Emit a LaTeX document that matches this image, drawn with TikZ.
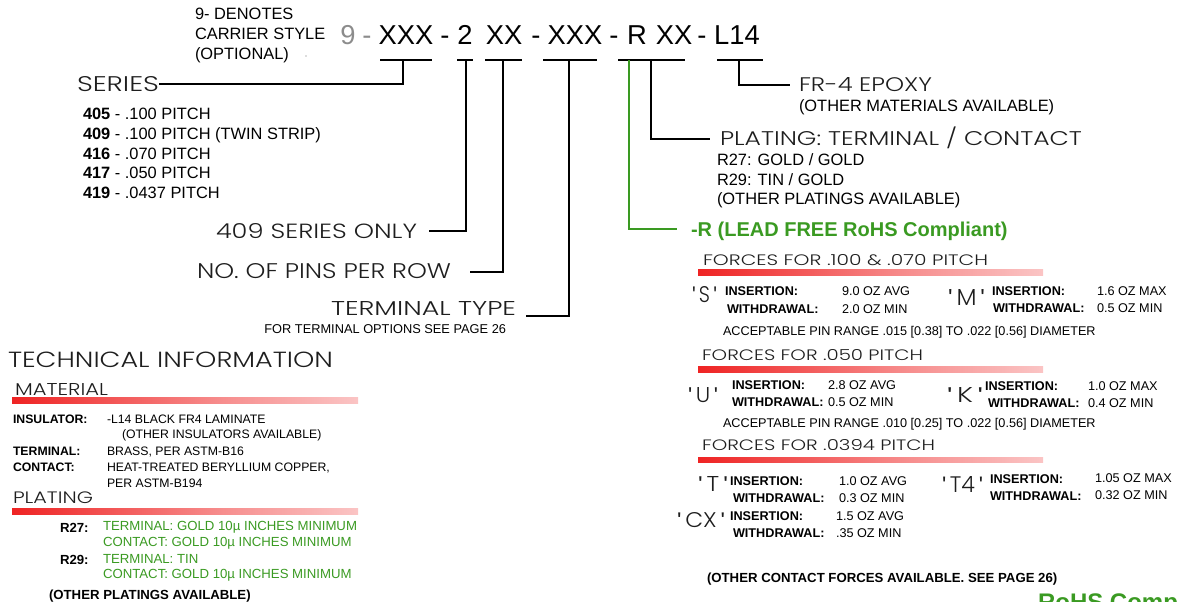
\documentclass[tikz,border=0pt]{standalone}
\usepackage{fontspec}
\setmainfont{Liberation Sans}
\newfontfamily\headfont{Poppins Light}
\usepackage{graphicx}
\usetikzlibrary{calc}
\newlength\pxu \setlength\pxu{0.75pt}
\newcommand\fsz[1]{\fontsize{#1}{#1}\selectfont}
\newcommand\hd[3]{\resizebox{#1\pxu}{#2\pxu}{\headfont #3}}
\newcommand\qlab[3]{\resizebox{#1\pxu}{#2\pxu}{\textquotesingle\,{\headfont #3}\,\textquotesingle}}
\newcommand\flatslash{\raisebox{0pt}[0pt][0pt]{/}}
\definecolor{rgreen}{RGB}{58,154,34}
\definecolor{hgray}{RGB}{30,30,30}
\definecolor{cgray}{RGB}{140,140,140}
\definecolor{bred}{RGB}{236,0,0}
\pgfdeclarehorizontalshading{redfade}{100bp}{color(0bp)=(bred); color(15bp)=(bred); color(55bp)=(bred!45); color(85bp)=(bred!12); color(100bp)=(white)}
\tikzset{
  every node/.style={inner sep=0pt, outer sep=0pt},
  conn/.style={line width=1.5pt, black},
  gconn/.style={line width=0.8pt, rgreen},
  body/.style={anchor=base west, font=\fsz{12.3pt}},
  small/.style={anchor=base west, font=\fsz{9.5pt}},
  smallb/.style={anchor=base west, font=\fsz{9.5pt}\bfseries},
  tech/.style={anchor=base west, font=\fsz{9.2pt}},
  techb/.style={anchor=base west, font=\fsz{9.2pt}\bfseries},
  gtxt/.style={anchor=base west, font=\fsz{9.9pt}, text=rgreen},
  plb/.style={anchor=base west, font=\fsz{9.9pt}\bfseries},
  head/.style={anchor=west, text=hgray},
  code/.style={anchor=base, font=\fsz{20.5pt}},
  redbar/.style={shading=redfade},
}
\begin{document}
\begin{tikzpicture}[x=1\pxu, y=-1\pxu]
\useasboundingbox (0,0) rectangle (1177,602);
\clip (0,0) rectangle (1177,602);

% ---------- top left note ----------
\node[body] (den1) at (195,20) {9- DENOTES};
\node[body] (den2) at (195,40) {CARRIER STYLE};
\node[body] (den3) at (195,60) {(OPTIONAL)};
\fill[cgray!60] (306,56) circle (0.8);

% ---------- part number ----------
\node[code, text=cgray] (c9) at (348,45) {9};
\node[code, text=cgray] (cd0) at (367,45) {-};
\node[code] (cxxxa) at (406,45) {XXX};
\node[code] (cd1) at (445,45) {-};
\node[code] (c2) at (465,45) {2};
\node[code] (cxxa) at (504,45) {XX};
\node[code] (cd2) at (536,45) {-};
\node[code] (cxxxb) at (575,45) {XXX};
\node[code] (cd3) at (614,45) {-};
\node[code] (cR) at (637,45) {R};
\node[code] (cxxb) at (674,45) {XX};
\node[code] (cd4) at (702,45) {-};
\node[code] (cL) at (737,45) {L14};

% underlines
\coordinate (u1a) at (380,60); \coordinate (u1b) at (432,60);
\coordinate (u2a) at (457,60); \coordinate (u2b) at (473,60);
\coordinate (u3a) at (485,60); \coordinate (u3b) at (522,60);
\coordinate (u4a) at (543,60); \coordinate (u4b) at (597,60);
\coordinate (u5a) at (618,60); \coordinate (u5b) at (685,60);
\coordinate (u6a) at (717,60); \coordinate (u6b) at (763,60);
\draw[conn] (u1a) -- (u1b);
\draw[conn] (u2a) -- (u2b);
\draw[conn] (u3a) -- (u3b);
\draw[conn] (u4a) -- (u4b);
\draw[conn] (u5a) -- (u5b);
\draw[conn] (u6a) -- (u6b);

% ---------- labels ----------
\node[head] (series) at (77,84) {\hd{82}{15}{SERIES}};
\node[head] (s409) at (216,231) {\hd{201}{15}{409 SERIES ONLY}};
\node[head] (pins) at (197,271.5) {\hd{254}{15}{NO. OF PINS PER ROW}};
\node[head] (ttype) at (331,308) {\hd{185}{14}{TERMINAL TYPE}};
\node[anchor=base east, font=\fsz{9.6pt}] (topt) at (506,333) {FOR TERMINAL OPTIONS SEE PAGE 26};

\node[head] (fr4) at (799,85) {\hd{133}{14}{FR-4 EPOXY}};
\node[body] (othmat) at (799,112) {(OTHER MATERIALS AVAILABLE)};
\node[head] (plat) at (720,139) {\hd{362}{14}{PLATING: TERMINAL \flatslash{} CONTACT}};
\node[body] (r27a) at (717,166) {R27: GOLD / GOLD};
\node[body] (r29a) at (717,186) {R29: TIN / GOLD};
\node[body] (othpl) at (717,205) {(OTHER PLATINGS AVAILABLE)};
\node[anchor=west, text depth=0pt, font=\fsz{15pt}\bfseries, text=rgreen] (rohs) at (691,229) {-R (LEAD FREE RoHS Compliant)};

% series list
\node[body] (l405) at (83,120) {\textbf{405} - .100 PITCH};
\node[body] (l409) at (83,140) {\textbf{409} - .100 PITCH (TWIN STRIP)};
\node[body] (l416) at (83,159.5) {\textbf{416} - .070 PITCH};
\node[body] (l417) at (83,179) {\textbf{417} - .050 PITCH};
\node[body] (l419) at (83,199) {\textbf{419} - .0437 PITCH};

% ---------- connectors ----------
\coordinate (t1) at (403,60);
\coordinate (t2) at (466,60);
\coordinate (t3) at (503,60);
\coordinate (t4) at (569,60);
\coordinate (t5) at (629,60);
\coordinate (t6) at (651,60);
\coordinate (t7) at (739,60);
\draw[conn] (t1) |- (series.east);
\draw[conn] (t2) |- ($(s409.east)+(12,0)$);
\draw[conn] (t3) |- ($(pins.east)+(19,0)$);
\draw[conn] (t4) |- ($(ttype.base east)+(10,1)$);
\draw[gconn] (t5) |- ($(rohs.west)+(-14,0)$);
\draw[conn] (t6) |- ($(plat.west)+(-10,0)$);
\draw[conn] (t7) |- ($(fr4.west)+(-9,0)$);

% ---------- forces ----------
\node[head] (f1) at (703,260.5) {\hd{285}{11}{FORCES FOR .100 \& .070 PITCH}};
\shade[redbar] (698,269) rectangle (1043,275);
\node[head] (qS) at (692,295) {\qlab{25}{16}{S}};
\node[smallb] (sIns) at (725,296) {INSERTION:};
\node[small] (sInsV) at (842,296) {9.0 OZ AVG};
\node[smallb] (sWd) at (727,313) {WITHDRAWAL:};
\node[small] (sWdV) at (842,313) {2.0 OZ MIN};
\node[head] (qM) at (948,297) {\qlab{37}{16}{M}};
\node[smallb] (mIns) at (992,295.5) {INSERTION:};
\node[small] (mInsV) at (1097,295.5) {1.6 OZ MAX};
\node[smallb] (mWd) at (993,312.5) {WITHDRAWAL:};
\node[small] (mWdV) at (1097,312.5) {0.5 OZ MIN};
\node[small] (acc1) at (723,335) {ACCEPTABLE PIN RANGE .015 [0.38] TO .022 [0.56] DIAMETER};

\node[head] (f2) at (702,355.5) {\hd{221}{11}{FORCES FOR .050 PITCH}};
\shade[redbar] (698,366) rectangle (1043,372);
\node[head] (qU) at (688,395) {\qlab{30}{15}{U}};
\node[smallb] (uIns) at (732,389) {INSERTION:};
\node[small] (uInsV) at (828,389) {2.8 OZ AVG};
\node[smallb] (uWd) at (732,406) {WITHDRAWAL:};
\node[small] (uWdV) at (828,406) {0.5 OZ MIN};
\node[head] (qK) at (947,395) {\qlab{36}{15}{K}};
\node[smallb] (kIns) at (985,390.5) {INSERTION:};
\node[small] (kInsV) at (1088,390) {1.0 OZ MAX};
\node[smallb] (kWd) at (988,407.5) {WITHDRAWAL:};
\node[small] (kWdV) at (1088,407.5) {0.4 OZ MIN};
\node[small] (acc2) at (723,427) {ACCEPTABLE PIN RANGE .010 [0.25] TO .022 [0.56] DIAMETER};

\node[head] (f3) at (702,445.5) {\hd{233}{11}{FORCES FOR .0394 PITCH}};
\shade[redbar] (698,457) rectangle (1043,462);
\node[head] (qT) at (698,484) {\qlab{30}{15}{T}};
\node[smallb] (tIns) at (730,485) {INSERTION:};
\node[small] (tInsV) at (839,485) {1.0 OZ AVG};
\node[smallb] (tWd) at (733,502) {WITHDRAWAL:};
\node[small] (tWdV) at (839,502) {0.3 OZ MIN};
\node[head] (qT4) at (942,484) {\qlab{41}{16}{T4}};
\node[smallb] (t4Ins) at (990,483.5) {INSERTION:};
\node[small] (t4InsV) at (1095,482) {1.05 OZ MAX};
\node[smallb] (t4Wd) at (990,500.5) {WITHDRAWAL:};
\node[small] (t4WdV) at (1095,499) {0.32 OZ MIN};
\node[head] (qCX) at (677,520) {\qlab{48}{15}{CX}};
\node[smallb] (cxIns) at (730,520.5) {INSERTION:};
\node[small] (cxInsV) at (836,520.5) {1.5 OZ AVG};
\node[smallb] (cxWd) at (733,537.5) {WITHDRAWAL:};
\node[small] (cxWdV) at (836,537.5) {.35 OZ MIN};
\node[plb] (othcf) at (707,582) {(OTHER CONTACT FORCES AVAILABLE. SEE PAGE 26)};
\node[anchor=base west, font=\fsz{18pt}\bfseries, text=rgreen] (rohsb) at (1038,610) {RoHS Comp};

% ---------- technical information ----------
\node[head] (tech) at (8,359.5) {\hd{325}{15.5}{TECHNICAL INFORMATION}};
\node[head] (mat) at (15,389) {\hd{93}{12}{MATERIAL}};
\shade[redbar] (12,397) rectangle (358,403);
\node[techb] (insL) at (13,423) {INSULATOR:};
\node[tech] (insV) at (107,423) {-L14 BLACK FR4 LAMINATE};
\node[tech] (insV2) at (122,438) {(OTHER INSULATORS AVAILABLE)};
\node[techb] (terL) at (13,455) {TERMINAL:};
\node[tech] (terV) at (107,455) {BRASS, PER ASTM-B16};
\node[techb] (conL) at (13,471) {CONTACT:};
\node[tech] (conV) at (107,471) {HEAT-TREATED BERYLLIUM COPPER,};
\node[tech] (conV2) at (107,487) {PER ASTM-B194};

\node[head] (plating) at (13,497.5) {\hd{80}{11.7}{PLATING}};
\shade[redbar] (12,508) rectangle (358,514);
\node[plb] (r27L) at (60,532) {R27:};
\node[gtxt] (r27t) at (103,530) {TERMINAL: GOLD 10µ INCHES MINIMUM};
\node[gtxt] (r27c) at (103,546) {CONTACT: GOLD 10µ INCHES MINIMUM};
\node[plb] (r29L) at (60,564) {R29:};
\node[gtxt] (r29t) at (103,563) {TERMINAL: TIN};
\node[gtxt] (r29c) at (103,578) {CONTACT: GOLD 10µ INCHES MINIMUM};
\node[plb] (othpl2) at (49,599) {(OTHER PLATINGS AVAILABLE)};
\end{tikzpicture}
\end{document}
